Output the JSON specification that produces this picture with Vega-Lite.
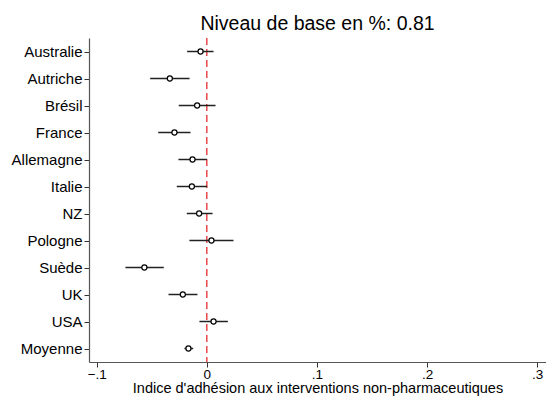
{
  "$schema": "https://vega.github.io/schema/vega-lite/v6.json",
  "autosize": {"type": "none"},
  "width": 457,
  "height": 324,
  "padding": {"left": 89, "top": 38, "right": 0, "bottom": 34},
  "background": "white",
  "title": {"text": "Niveau de base en %: 0.81", "font": "Liberation Sans", "fontSize": 19.5, "fontWeight": "normal", "color": "black", "anchor": "middle", "baseline": "bottom", "offset": 5, "dy": 21},
  "config": {"view": {"stroke": null}, "font": "Liberation Sans"},
  "data": {"values": [
    {"pays": "Australie", "coef": -0.0057, "lo": -0.0179, "hi": 0.0061},
    {"pays": "Autriche", "coef": -0.0336, "lo": -0.0515, "hi": -0.0157},
    {"pays": "Brésil", "coef": -0.0088, "lo": -0.0255, "hi": 0.0079},
    {"pays": "France", "coef": -0.0294, "lo": -0.0442, "hi": -0.0148},
    {"pays": "Allemagne", "coef": -0.0130, "lo": -0.0258, "hi": 0.0},
    {"pays": "Italie", "coef": -0.0136, "lo": -0.0273, "hi": 0.0003},
    {"pays": "NZ", "coef": -0.0070, "lo": -0.0182, "hi": 0.0052},
    {"pays": "Pologne", "coef": 0.0042, "lo": -0.0158, "hi": 0.0242},
    {"pays": "Suède", "coef": -0.0567, "lo": -0.0739, "hi": -0.0391},
    {"pays": "UK", "coef": -0.0218, "lo": -0.0348, "hi": -0.0085},
    {"pays": "USA", "coef": 0.0061, "lo": -0.0067, "hi": 0.0191},
    {"pays": "Moyenne", "coef": -0.0167, "lo": -0.0203, "hi": -0.0124}
  ]},
  "encoding": {
    "y": {"field": "pays", "type": "nominal", "sort": null,
      "scale": {"type": "point", "padding": 0.5},
      "axis": {"title": null, "grid": false, "domainColor": "#555", "domainWidth": 1.2, "tickColor": "#333", "tickSize": 5, "labelFontSize": 15, "labelColor": "black", "labelPadding": 2, "labelFont": "Liberation Sans"}}
  },
  "layer": [
    {
      "mark": {"type": "rule", "color": "#e31a1c", "strokeDash": [7, 4], "strokeWidth": 1.2},
      "data": {"values": [{"x0": 0}]},
      "encoding": {"x": {"field": "x0", "type": "quantitative"}, "y": null}
    },
    {
      "mark": {"type": "rule", "color": "#222", "strokeWidth": 1.5},
      "encoding": {
        "x": {"field": "lo", "type": "quantitative",
          "scale": {"domain": [-0.107, 0.308], "nice": false, "zero": false},
          "axis": {"title": "Indice d'adhésion aux interventions non-pharmaceutiques", "values": [-0.1, 0, 0.1, 0.2, 0.3],
            "labelExpr": "datum.value == 0 ? '0' : replace(format(datum.value, '.1f'), '0.', '.')",
            "grid": false, "domainColor": "#555", "domainWidth": 1.2, "tickColor": "#333", "tickSize": 5,
            "labelFontSize": 13.5, "labelColor": "black", "labelPadding": 0, "labelFont": "Liberation Sans",
            "titleFontSize": 14.5, "titleFontWeight": "normal", "titleColor": "black", "titleFont": "Liberation Sans", "titlePadding": 1}},
        "x2": {"field": "hi"}
      }
    },
    {
      "mark": {"type": "point", "shape": "circle", "filled": false, "fill": "white", "stroke": "black", "strokeWidth": 1.2, "size": 26, "opacity": 1},
      "encoding": {"x": {"field": "coef", "type": "quantitative"}}
    }
  ]
}
